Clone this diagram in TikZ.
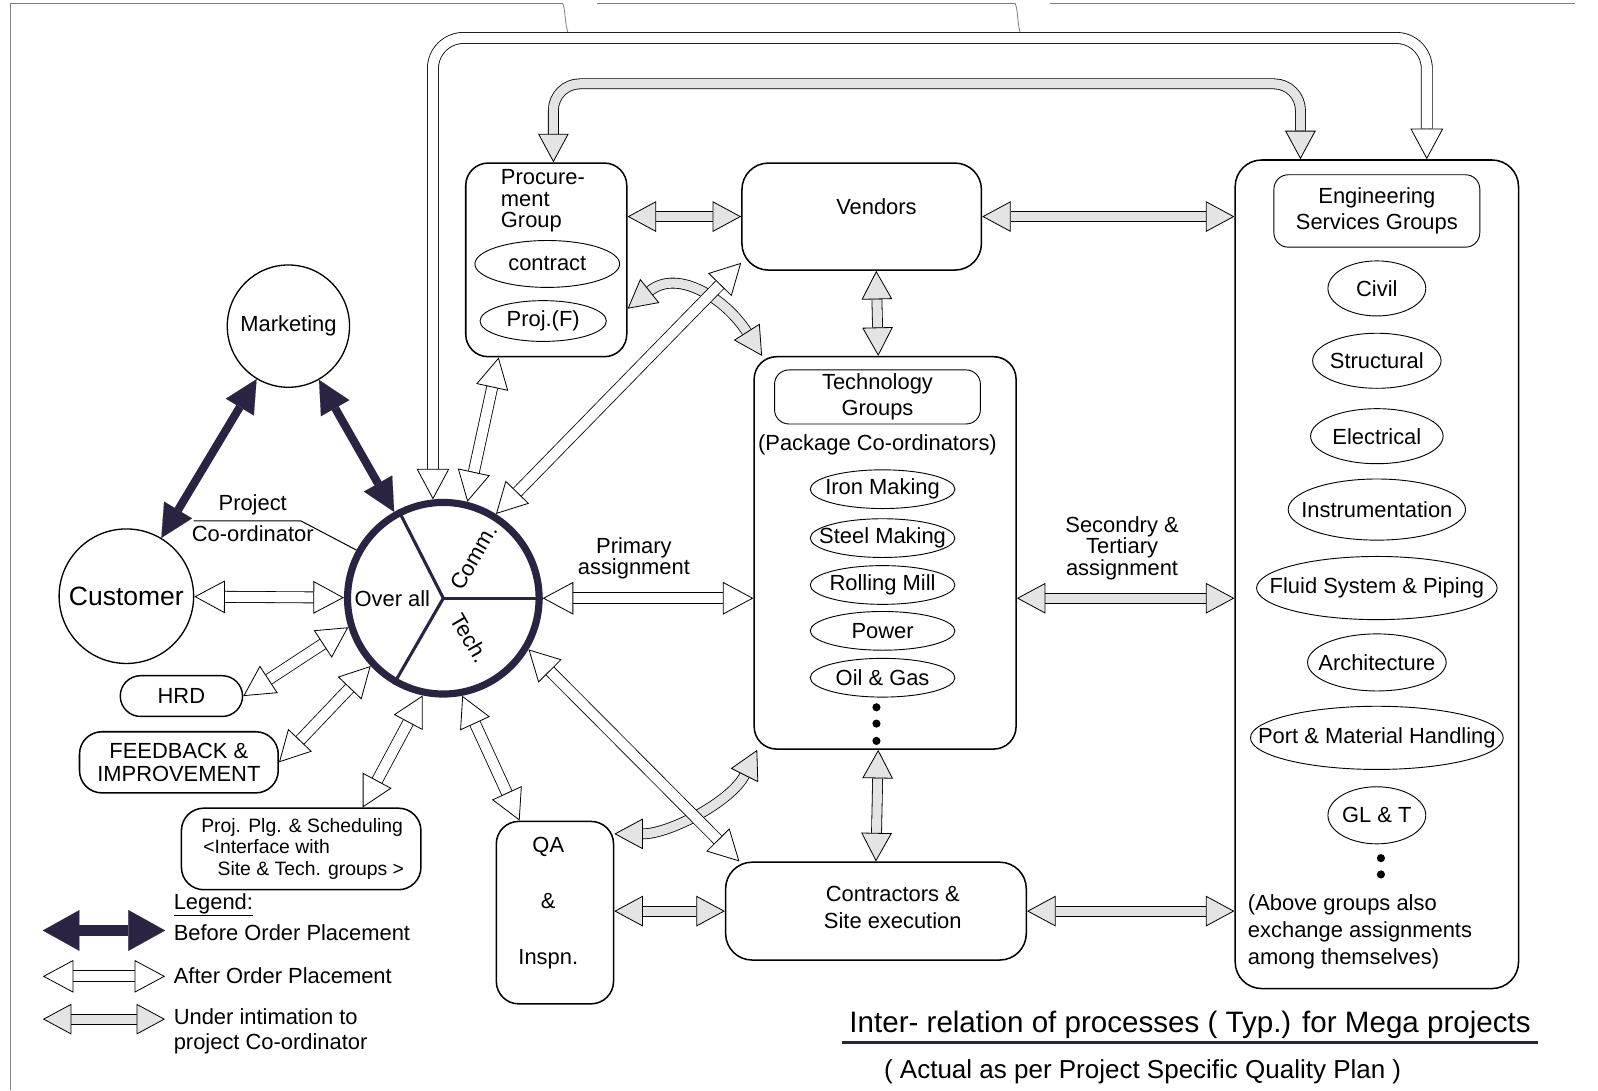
\documentclass[tikz,border=0pt]{standalone}
\usepackage{fontspec}
\setmainfont{Liberation Sans}
\usetikzlibrary{
  arrows.meta,
  calc,
  positioning,
  shapes.geometric,
}

\definecolor{ink}{RGB}{42,36,66}
\definecolor{stipple}{RGB}{228,228,228}
\newcommand{\fs}[1]{\fontsize{21.5pt}{#1pt}\selectfont}

\tikzset{
  box/.style={draw, rounded corners=22pt, line width=1.5pt},
  subbox/.style={draw, rounded corners=14pt, line width=0.9pt},
  grp/.style={ellipse, draw, line width=0.9pt, inner sep=0pt},
  ball/.style={circle, draw, line width=1.3pt, inner sep=0pt},
  dotm/.style={circle, fill, inner sep=0pt, minimum size=8pt},
  before/.style={draw=ink, line width=8pt,
    {Triangle[length=32pt, width=32pt, line width=0.1pt]}-{Triangle[length=32pt, width=32pt, line width=0.1pt]}},
  aftershaft/.style={line width=0.8pt, double=white, double distance=10pt, shorten <=30pt, shorten >=30pt},
  aftertip/.style={draw=white, line width=0.8pt,
    {Triangle[length=30pt, width=32pt, color=black, fill=white]}-{Triangle[length=30pt, width=32pt, color=black, fill=white]}},
  intimshaft/.style={line width=0.8pt, double=stipple, double distance=9pt, shorten <=28pt, shorten >=28pt},
  intimtip/.style={draw=stipple, line width=0.8pt,
    {Triangle[length=28pt, width=30pt, color=black, fill=stipple]}-{Triangle[length=28pt, width=30pt, color=black, fill=stipple]}},
}
\newcommand{\afterarrow}[1]{\draw[aftershaft] #1; \draw[aftertip] #1;}
\newcommand{\intimarrow}[1]{\draw[intimshaft] #1; \draw[intimtip] #1;}

\begin{document}
\begin{tikzpicture}[x=1pt, y=-1pt, every node/.style={font=\fs{25}}]

\fill[white] (0,0) rectangle (1568,1070);
\useasboundingbox (0,0) rectangle (1568,1070);

% page frame
\draw[gray, line width=0.8pt] (10,1070) -- (10,3) -- (552,3);
\draw[gray, line width=0.8pt] (552,3) .. controls (556,12) and (553,30) .. (561,38);
\draw[gray, line width=0.8pt] (586,3) -- (996,3);
\draw[gray, line width=0.8pt] (996,3) .. controls (1000,12) and (997,30) .. (1005,40);
\draw[gray, line width=0.8pt] (1030,3) -- (1545,3);

% circles
\node[ball, minimum size=120pt] (mkt) at (283,320) {Marketing};
\node[ball, minimum size=132pt, font=\fontsize{26pt}{30pt}\selectfont] (cust) at (124,585) {Customer};
\node[ball, draw=ink, line width=7pt, minimum size=188pt, outer sep=3.5pt] (over) at (435,587) {};
\draw[ink, line width=3pt] (over.center) -- (over.0);
\draw[ink, line width=3pt] (over.center) -- (over.117);
\draw[ink, line width=3pt] (over.center) -- (over.240);
\node[inner sep=0pt] (overtxt) at (385,587) {Over all};
\node[rotate=60, inner sep=0pt] (commtxt) at (465,547) {Comm.};
\node[rotate=-60, inner sep=0pt] (techtxt) at (461,626) {Tech.};

\node (pc1) at (248,495) {Project};
\node (pc2) at (248,524) {Co-ordinator};
\coordinate (pcl) at (190,511);
\draw[line width=1pt] (pcl) -- ++(105,0) -- (over.151);

% left side boxes
\node[box, rounded corners=20pt, line width=1.4pt, minimum width=120pt, minimum height=40pt] (hrd) at (178,683) {HRD};
\node[box, minimum width=195pt, minimum height=60pt, align=center, font=\fs{23}] (fb) at (175.5,748) {FEEDBACK \&\\IMPROVEMENT};
\node[box, minimum width=235pt, minimum height=80pt] (plg) at (295.5,833) {};
\node[anchor=west, align=left, font=\fontsize{19pt}{21.5pt}\selectfont] (plgtxt) at (194,833)
  {Proj. Plg. \& Scheduling\\\hspace*{2pt}\textless Interface with\\\hspace*{16pt}Site \& Tech. groups \textgreater};

% procurement
\node[box, minimum width=158pt, minimum height=190pt] (proc) at (536,255) {};
\node[anchor=west, align=left, font=\fs{21.5}] (proctxt) at (488,197) {Procure-\\ment\\Group};
\node[grp, minimum width=142pt, minimum height=46pt] (contract) at (537,259) {contract};
\node[grp, minimum width=124pt, minimum height=40pt] (projf) at (533,315) {Proj.(F)};

% vendors
\node[box, rounded corners=26pt, minimum width=235pt, minimum height=105pt] (vend) at (845.5,212.5) {};
\node (vendtxt) at (860,203) {Vendors};

% technology groups
\node[box, minimum width=257pt, minimum height=385pt] (tech) at (868.5,542.5) {};
\node[subbox, minimum width=202pt, minimum height=53pt, align=center, font=\fs{26}] (tgrp) at (861,389.5) {Technology\\Groups};
\node[below=6pt of tgrp] (pkg) {(Package Co-ordinators)};
\foreach \n/\t/\y in {iron/Iron Making/480, steel/Steel Making/528, roll/Rolling Mill/574, power/Power/619, oil/Oil \& Gas/665}
  \node[grp, minimum width=142pt, minimum height=38pt, label={center:\t}] (\n) at (866,\y) {};
\foreach \y [count=\i] in {694,710,727}
  \node[dotm] (td\i) at (860,\y) {};

% engineering services
\node[box, rounded corners=26pt, minimum width=278pt, minimum height=813pt] (eng) at (1351,563.5) {};
\node[subbox, minimum width=202pt, minimum height=71pt, align=center, font=\fs{25}] (egrp) at (1351,207) {Engineering\\Services Groups};
\foreach \n/\t/\y/\w/\h in {civil/Civil/283/96/54, struct/Structural/354/126/54, elec/Electrical/428/130/54,
    instr/Instrumentation/500/174/60, fluid/Fluid System \& Piping/577/236/62, arch/Architecture/650/136/56,
    port/Port \& Material Handling/724/248/62, glt/GL \& T/800/96/56}
  \node[grp, minimum width=\w pt, minimum height=\h pt, label={center:\t}] (\n) at (1351,\y) {};
\foreach \y [count=\i] in {842,858}
  \node[dotm] (ed\i) at (1355,\y) {};
\node[anchor=west, align=left, font=\fs{26.5}] (engnote) at (1221,914) {(Above groups also\\exchange assignments\\among themselves)};

% QA and contractors
\node[box, minimum width=115pt, minimum height=179pt] (qa) at (544.5,895.5) {};
\node[align=center, font=\fs{55}] (qatxt) at (538,886) {QA\\\&\\Inspn.};
\node[box, rounded corners=26pt, minimum width=295pt, minimum height=96pt] (cont) at (859.5,894) {};
\node[align=center, font=\fs{27}] (conttxt) at (876,890.5) {Contractors \&\\Site execution};

% labels
\node[align=center, font=\fs{19}] (prim) at (622,548) {Primary\\assignment};
\node[align=center, font=\fs{21.5}] (sec) at (1101,538) {Secondry \&\\Tertiary\\assignment};

% under intimation to project co-ordinator
\intimarrow{[rounded corners=26pt] ([xshift=7pt]proc.north) |- ([xshift=-75pt, yshift=74pt]eng.north) -- ([xshift=-75pt]eng.north)}
\intimarrow{(proc.east |- vend.west) -- (vend.west)}
\intimarrow{(vend.east) -- (vend.east -| eng.west)}
\intimarrow{(vend.285) -- (tech.92)}
\intimarrow{(proc.329) .. controls +(50,-40) and +(-35,-55) .. (tech.122)}
\intimarrow{(over -| tech.east) -- (over -| eng.west)}
\intimarrow{(tech.268) -- (cont.north)}
\intimarrow{(qa.53) .. controls +(55,0) and +(-25,50) .. (tech.237)}
\intimarrow{(qa.east |- cont.west) -- (cont.west)}
\intimarrow{(cont.east) -- (cont.east -| eng.west)}

% after order placement
\afterarrow{[rounded corners=30pt] (over.96) |- ([xshift=49pt, yshift=119pt]eng.north) -- ([xshift=49pt]eng.north)}
\afterarrow{(over.76) -- (proc.244)}
\afterarrow{(over.58) -- (vend.201)}
\afterarrow{(over) -- (over -| tech.west)}
\afterarrow{(cust) -- (over)}
\afterarrow{(hrd.east) -- (over.197)}
\afterarrow{(fb.east) -- (over.223)}
\afterarrow{(plg.34) -- (over.258)}
\afterarrow{(qa.111) -- (over.281)}
\afterarrow{(cont.160) -- (over.329)}

% before order placement
\draw[before] (mkt) -- (cust);
\draw[before] (mkt) -- (over);

% legend
\node[anchor=west] (leg) at (167,888) {\underline{Legend:}};
\node[anchor=west] (k1) at (167,915) {Before Order Placement};
\node[anchor=west] (k2) at (167,957) {After Order Placement};
\node[anchor=west, align=left, font=\fs{24}] (k3) at (167,1012) {Under intimation to\\project Co-ordinator};
\coordinate (k1a) at (42,913);
\coordinate (k1b) at (162,913);
\coordinate (k2a) at (42,958);
\coordinate (k2b) at (162,958);
\coordinate (k3a) at (42,1000);
\coordinate (k3b) at (162,1000);
\draw[before, line width=11pt, {Triangle[length=36pt, width=40pt, line width=0.1pt]}-{Triangle[length=36pt, width=40pt, line width=0.1pt]}] (k1a) -- (k1b);
\afterarrow{(k2a) -- (k2b)}
\intimarrow{(k3a) -- (k3b)}

% title
\node[anchor=west, font=\fontsize{29pt}{32pt}\selectfont] (title) at (830,1006) {Inter- relation of processes ( Typ.) for Mega projects};
\draw[ink, line width=3.5pt] ([xshift=-4pt]title.south west) -- ([xshift=4pt]title.south east);
\node[anchor=west, font=\fontsize{25.5pt}{28pt}\selectfont] (sub) at (864,1052) {( Actual as per Project Specific Quality Plan )};

\end{tikzpicture}
\end{document}
